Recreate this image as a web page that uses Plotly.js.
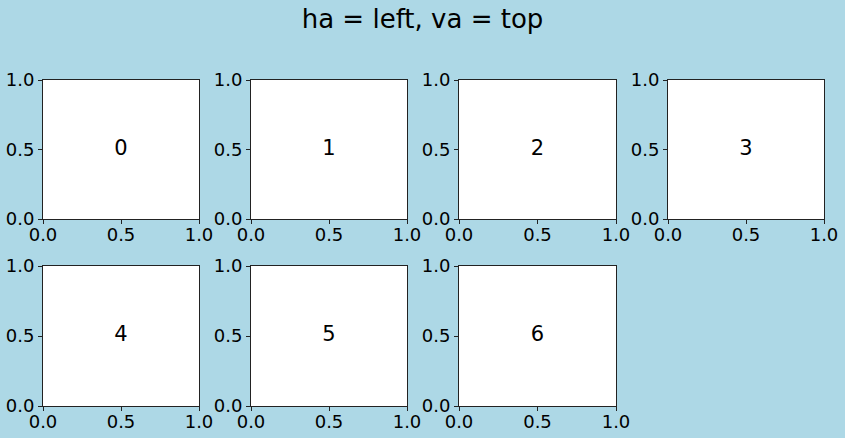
<!DOCTYPE html>
<html>
<head>
<meta charset="utf-8">
<script src="https://cdn.plot.ly/plotly-3.0.1.min.js"></script>
<style>html,body{margin:0;padding:0;background:#add8e6;}</style>
</head>
<body>
<div id="chart" style="width:845px;height:438px;"></div>
<script>
const labels = ['0', '1', '2', '3', '4', '5', '6'];
const labelX = [0.5, 0.5, 0.5, 0.5, 0.5, 0.5, 0.5];
const labelY = [0.5, 0.5, 0.5, 0.5, 0.5, 0.5, 0.5];
const tickVals = [0, 0.5, 1];
const tickText = ['0.0', '0.5', '1.0'];
const titleText = 'ha = left, va = top';

const xDomains = [[43/845, 199/845], [251/845, 407/845], [459/845, 616/845], [668/845, 824/845]];
const yDomains = [[1 - 219/438, 1 - 80/438], [1 - 406/438, 1 - 266/438]];
const font = 'DejaVu Sans, sans-serif';

const traces = [];
const layout = {
  width: 845, height: 438,
  margin: {l: 0, r: 0, t: 0, b: 0},
  paper_bgcolor: '#add8e6',
  plot_bgcolor: '#ffffff',
  showlegend: false,
  title: {text: titleText, font: {family: font, size: 26, color: '#000'}, x: 0.5, xanchor: 'center', xref: 'paper', y: 1 - 19/438, yanchor: 'middle', yref: 'container'},
  font: {family: font, color: '#000'}
};

labels.forEach((lab, i) => {
  const r = Math.floor(i / 4), c = i % 4;
  const n = i === 0 ? '' : String(i + 1);
  traces.push({
    type: 'scatter', mode: 'text',
    x: [labelX[i]], y: [labelY[i]], text: [lab],
    textposition: 'middle center',
    textfont: {family: font, size: 21, color: '#000'},
    xaxis: 'x' + n, yaxis: 'y' + n,
    hoverinfo: 'skip', cliponaxis: false
  });
  const ax = {
    range: [0, 1], showgrid: false, zeroline: false,
    showline: true, linecolor: '#222', linewidth: 1, mirror: true,
    ticks: 'outside', ticklen: 4, tickwidth: 1, tickcolor: '#222',
    tickvals: tickVals, ticktext: tickText,
    tickfont: {family: font, size: 18, color: '#000'},
    fixedrange: true
  };
  layout['xaxis' + n] = Object.assign({}, ax, {domain: xDomains[c], anchor: 'y' + n, ticklabelstandoff: -5});
  layout['yaxis' + n] = Object.assign({}, ax, {domain: yDomains[r], anchor: 'x' + n});
});

Plotly.newPlot('chart', traces, layout, {displayModeBar: false, staticPlot: true});
</script>
</body>
</html>
